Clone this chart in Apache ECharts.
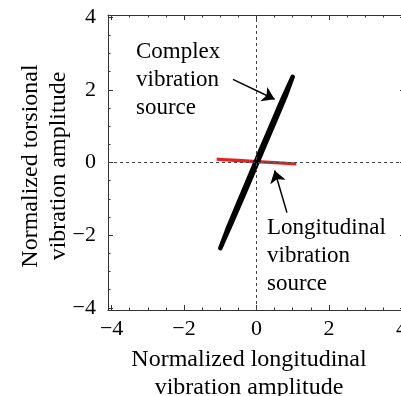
<!DOCTYPE html>
<html>
<head>
<meta charset="utf-8">
<script src="https://cdn.jsdelivr.net/npm/echarts@6/dist/echarts.min.js"></script>
<style>
html,body{margin:0;padding:0;background:#fff;}
#c{width:401px;height:396px;}
</style>
</head>
<body>
<div id="c"></div>
<script>
// ---- data (normalized amplitudes) ----
var majorTicks = [-4, -2, 0, 2, 4];
var minorTicks = [-4, -3.5, -3, -2.5, -2, -1.5, -1, -0.5, 0, 0.5, 1, 1.5, 2, 2.5, 3, 3.5, 4];
// complex vibration source: narrow Lissajous loop (longitudinal, torsional)
var complexLoop = [
  [-1.0, -2.36], [-0.7, -1.69], [-0.4, -1.00], [-0.1, -0.30], [0.2, 0.41],
  [0.5, 1.11], [0.8, 1.82], [1.0, 2.36],
  [0.7, 1.71], [0.4, 1.01], [0.1, 0.31], [-0.2, -0.40], [-0.5, -1.11],
  [-0.8, -1.83], [-1.0, -2.36]
];
// longitudinal vibration source: almost flat loop
var longitudinalLoop = [
  [-1.1, 0.09], [-0.5, 0.05], [0.0, 0.02], [0.5, -0.01], [1.1, -0.04],
  [0.5, 0.0], [0.0, 0.03], [-0.5, 0.06], [-1.1, 0.09]
];
var complexArrow = [[-0.65, 2.29], [0.5, 1.74]];
var longitudinalArrow = [[0.84, -1.38], [0.5, -0.22]];
var complexText = 'Complex\nvibration\nsource';
var longitudinalText = 'Longitudinal\nvibration\nsource';
var xName = 'Normalized longitudinal\nvibration amplitude';
var yName = 'Normalized torsional\nvibration amplitude';

var SERIF = '"Liberation Serif", "DejaVu Serif", serif';
var fmt = function (v) { return String(v).replace('-', '\u2212'); };

function axisPair(pos, range) {
  var base = {
    type: 'value', position: pos, min: -range, max: range,
    splitLine: { show: false },
    axisLine: { show: true, onZero: false, lineStyle: { color: '#333', width: 1 } }
  };
  var major = Object.assign({}, base, {
    axisTick: { show: true, inside: true, length: 5, customValues: majorTicks, lineStyle: { color: '#333' } },
    axisLabel: { show: false }
  });
  var minor = Object.assign({}, base, {
    axisLine: { show: false, onZero: false },
    axisTick: { show: true, inside: true, length: 2.5, customValues: minorTicks, lineStyle: { color: '#333' } },
    axisLabel: { show: false }
  });
  return [major, minor];
}

var xs = axisPair('bottom', 4.1);
xs[0].axisLabel = { show: true, customValues: majorTicks, formatter: fmt, margin: 8,
  fontFamily: SERIF, fontSize: 22, color: '#000' };
var xt = axisPair('top', 4.1);
var ys = axisPair('left', 4.06);
ys[0].axisLabel = { show: true, customValues: majorTicks, formatter: fmt, margin: 12,
  fontFamily: SERIF, fontSize: 22, color: '#000' };
var yt = axisPair('right', 4.06);

var chart = echarts.init(document.getElementById('c'), null, { renderer: 'canvas' });
chart.setOption({
  animation: false,
  backgroundColor: '#fff',
  grid: { left: 108, top: 15, width: 297, height: 295, containLabel: false, outerBoundsMode: 'none' },
  xAxis: [xs[0], xs[1], xt[0], xt[1]],
  yAxis: [ys[0], ys[1], yt[0], yt[1]],
  series: [
    {
      type: 'line', data: [], xAxisIndex: 0, yAxisIndex: 0,
      markLine: {
        silent: true, symbol: 'none', label: { show: false },
        lineStyle: { color: '#444', width: 1, type: [3, 3] },
        data: [{ xAxis: 0 }, { yAxis: 0 }]
      }
    },
    {
      name: 'Longitudinal', type: 'line', data: longitudinalLoop, showSymbol: false,
      xAxisIndex: 0, yAxisIndex: 0,
      lineStyle: { color: '#e8211f', width: 3 }
    },
    {
      name: 'Complex', type: 'line', data: complexLoop, showSymbol: false,
      xAxisIndex: 0, yAxisIndex: 0,
      lineStyle: { color: '#000', width: 4.5, join: 'round', cap: 'round' }
    },
    {
      type: 'lines', coordinateSystem: 'cartesian2d', xAxisIndex: 0, yAxisIndex: 0,
      symbol: ['none', 'arrow'], symbolSize: [6, 12],
      lineStyle: { color: '#000', width: 1.5, opacity: 1 },
      data: [{ coords: complexArrow }, { coords: longitudinalArrow }]
    }
  ],
  graphic: [
    { type: 'text', left: 136, top: 38,
      style: { text: complexText, font: '23px ' + SERIF, lineHeight: 28, fill: '#000' } },
    { type: 'text', left: 267, top: 214,
      style: { text: longitudinalText, font: '23px ' + SERIF, lineHeight: 28, fill: '#000' } },
    { type: 'text', x: 249, y: 346,
      style: { text: xName, font: '24px ' + SERIF, lineHeight: 28, fill: '#000', align: 'center', verticalAlign: 'top' } },
    { type: 'text', x: 17, y: 166, rotation: Math.PI / 2,
      style: { text: yName, font: '24px ' + SERIF, lineHeight: 28, fill: '#000', align: 'center', verticalAlign: 'top' } }
  ]
});
</script>
</body>
</html>
